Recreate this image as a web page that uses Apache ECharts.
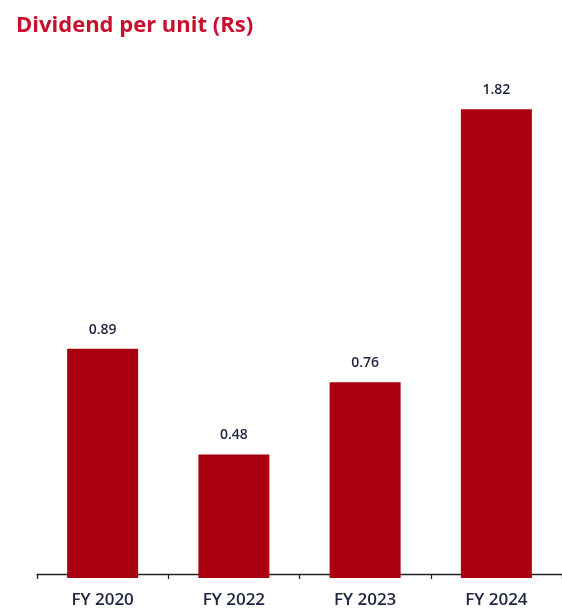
<!DOCTYPE html>
<html>
<head>
<meta charset="utf-8">
<script src="https://cdn.jsdelivr.net/npm/echarts@6/dist/echarts.min.js"></script>
<style>
  html, body { margin: 0; padding: 0; background: #fff; }
  #chart { width: 562px; height: 609px; }
</style>
</head>
<body>
<div id="chart"></div>
<script>
// Dividend per unit by fiscal year
const years = ['FY 2020', 'FY 2022', 'FY 2023', 'FY 2024'];
const dividends = [0.89, 0.48, 0.76, 1.82];

const chart = echarts.init(document.getElementById('chart'));
chart.setOption({
  animation: false,
  title: {
    text: 'Dividend per unit (Rs)',
    left: 11,
    top: 10,
    textStyle: {
      fontFamily: 'Open Sans',
      fontWeight: 'bold',
      fontSize: 22,
      color: '#C8102E'
    }
  },
  grid: { left: 37, width: 532, top: 63, bottom: 30 },
  xAxis: {
    type: 'category',
    data: years,
    offset: -4,
    axisLine: { lineStyle: { color: '#222', width: 1.3 } },
    axisTick: { show: true, length: 5, lineStyle: { color: '#222', width: 1.3 } },
    axisLabel: {
      fontFamily: 'Open Sans',
      fontWeight: 600,
      fontSize: 17,
      color: '#1f2440',
      margin: 18
    }
  },
  yAxis: {
    type: 'value',
    min: 0,
    max: 2,
    show: false,
    splitLine: { show: false }
  },
  series: [{
    type: 'bar',
    data: dividends,
    barWidth: 71,
    itemStyle: { color: '#A8000F' },
    label: {
      show: true,
      position: 'top',
      distance: 12,
      fontFamily: 'Open Sans',
      fontWeight: 600,
      fontSize: 14,
      color: '#1f2440',
      formatter: p => p.value.toFixed(2)
    }
  }]
});
</script>
</body>
</html>
